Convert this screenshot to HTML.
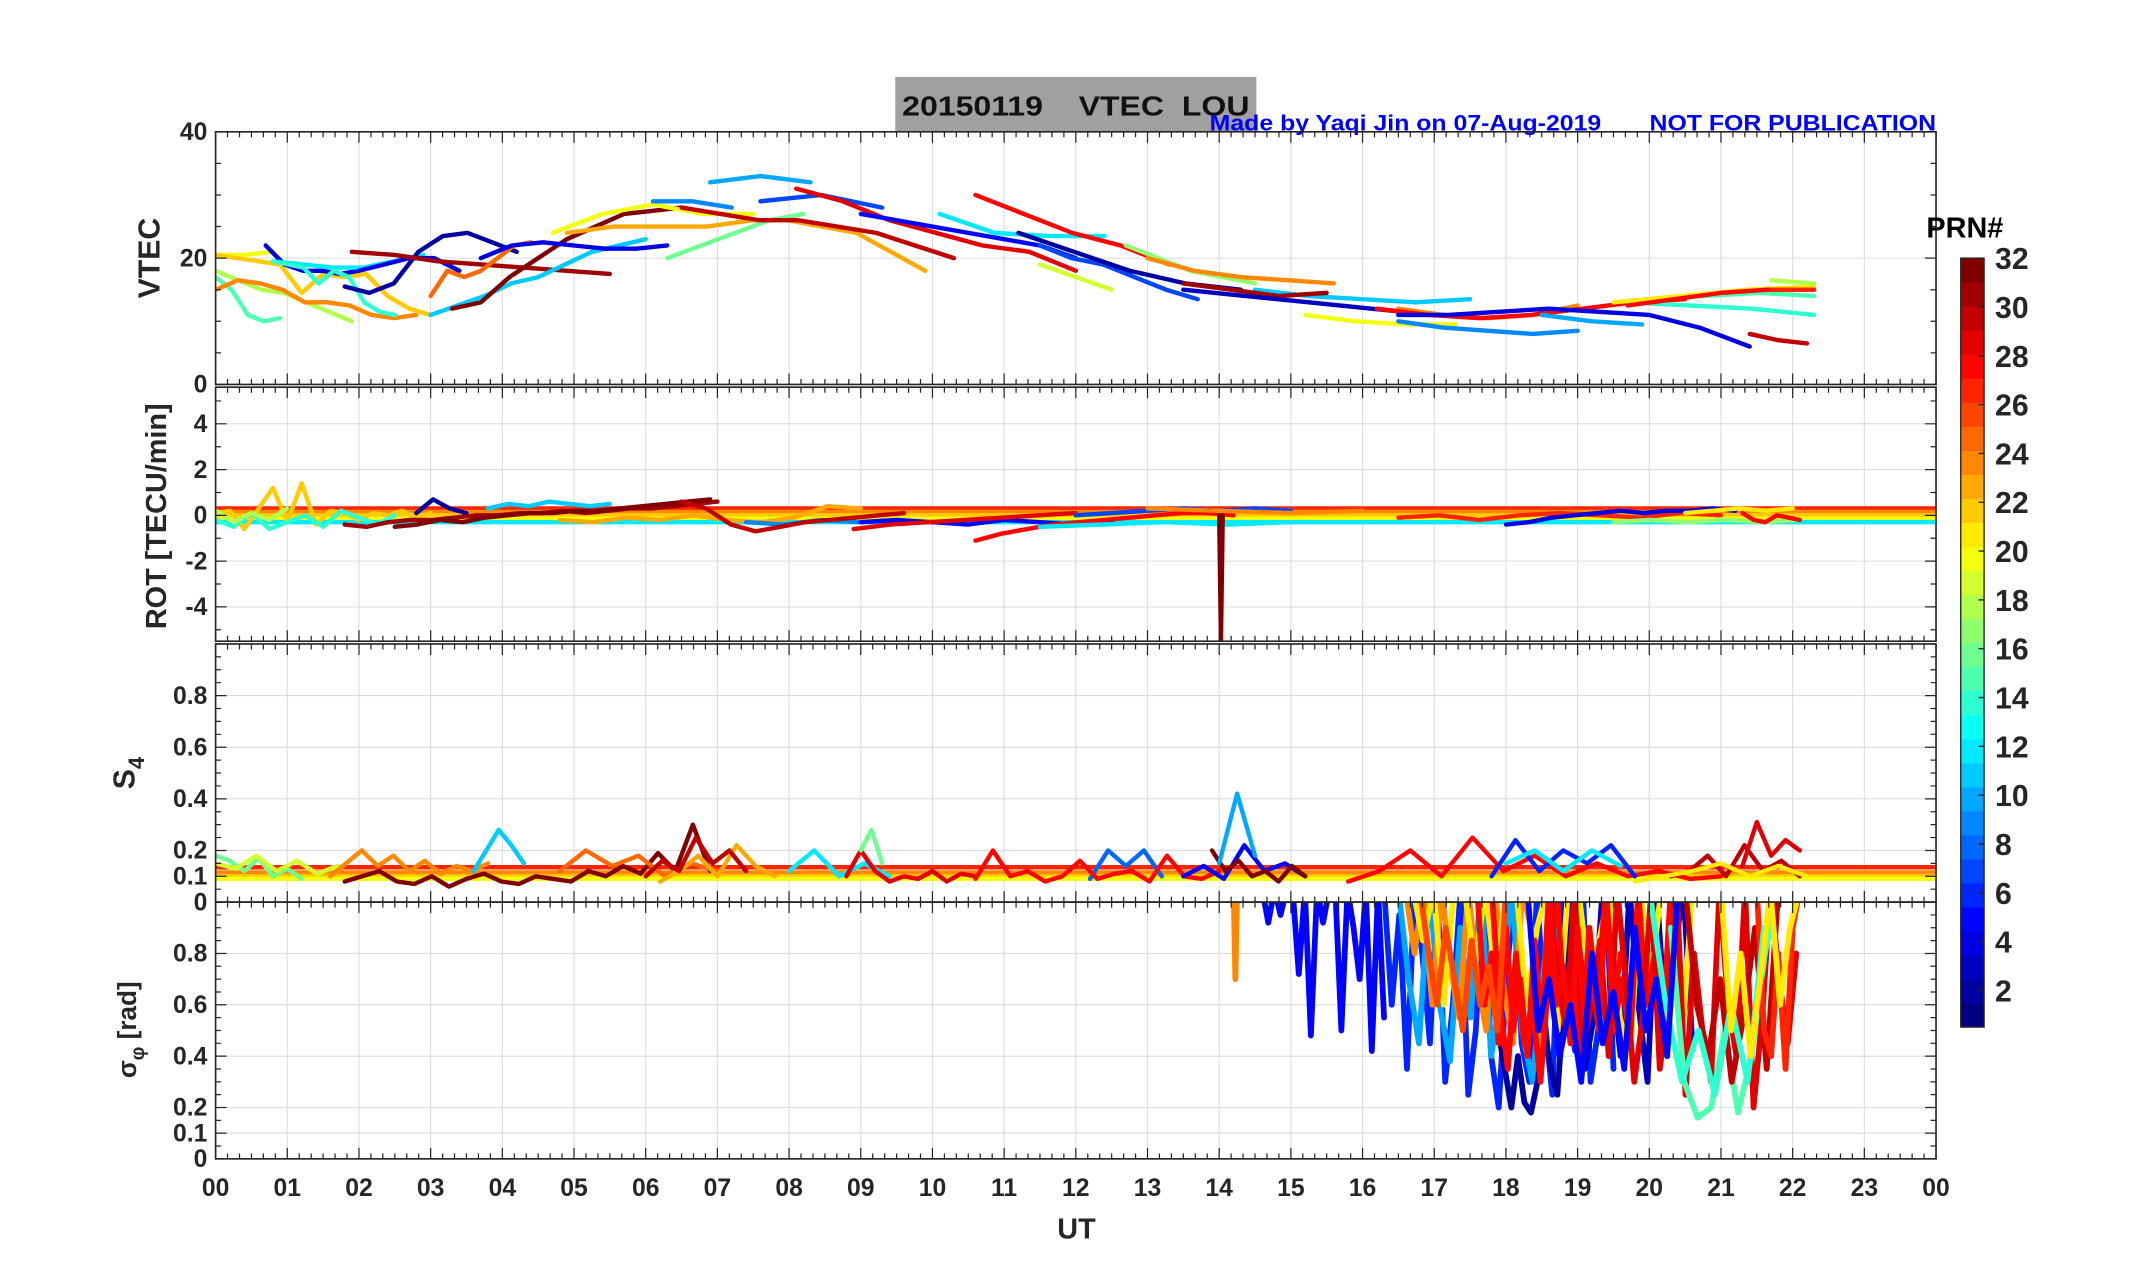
<!DOCTYPE html>
<html><head><meta charset="utf-8"><style>
html,body{margin:0;padding:0;background:#fff;width:2153px;height:1286px;overflow:hidden}
svg{display:block}
text{font-family:"Liberation Sans",sans-serif;font-weight:bold}
</style></head><body>
<svg id="fig" xmlns="http://www.w3.org/2000/svg" width="2153" height="1286" viewBox="0 0 1568 936.6">
<rect x="0" y="0" width="1568" height="937" fill="#fff"/>
<rect x="652" y="56" width="263" height="40" fill="#a0a0a0"/>
<text x="657" y="84" font-size="20" fill="#111" textLength="253" lengthAdjust="spacingAndGlyphs" xml:space="preserve">20150119    VTEC  LOU</text>
<text x="881" y="95" font-size="16" fill="#0000ff" textLength="529" lengthAdjust="spacingAndGlyphs" xml:space="preserve">Made by Yaqi Jin on 07-Aug-2019       NOT FOR PUBLICATION</text>
<g id="plots"></g>
<text x="784" y="902" font-size="21" text-anchor="middle" fill="#262626">UT</text>
<text transform="translate(116,188) rotate(-90)" font-size="22" text-anchor="middle" fill="#262626">VTEC</text>
<text transform="translate(121,376) rotate(-90)" font-size="21" text-anchor="middle" fill="#262626">ROT [TECU/min]</text>
<text transform="translate(98,563) rotate(-90)" font-size="22" text-anchor="middle" fill="#262626">S<tspan font-size="16" dy="7">4</tspan></text>
<text transform="translate(99,750) rotate(-90)" font-size="19" text-anchor="middle" fill="#262626">σ<tspan font-size="14" dy="6">φ</tspan><tspan dy="-6"> [rad]</tspan></text>
<text x="1403" y="173" font-size="21" fill="#000">PRN#</text>
<g id="cbar"></g>
</svg>
<script>
// ---------- data ----------
const xTickLabels = ["00","01","02","03","04","05","06","07","08","09","10","11","12","13","14","15","16","17","18","19","20","21","22","23","00"];
const vtecTicks = [0,20,40];
const rotTicks = [-4,-2,0,2,4];
const s4Ticks = [0,0.1,0.2,0.4,0.6,0.8];
const sigTicks = [0,0.1,0.2,0.4,0.6,0.8];
const cbarLabels = [2,4,6,8,10,12,14,16,18,20,22,24,26,28,30,32];

// VTEC arcs: prn, start hour, end hour, values
const vtecPrn   = [15,18,24,20,22,4,12,14,2,4,31,11,32,25,4,20,23,16,9,10,7,23,30,29,5,12,28,7,2,19,17,24,11,31,3,20,9,24,28,4,10,14,15,21,28,30,18,27];
const vtecStart = [0,0,0,0,0,0.7,0.8,0.8,1.8,2.0,1.9,3.0,3.3,3.0,3.7,4.7,4.9,6.3,6.1,6.9,7.6,7.5,6.5,8.1,9.0,10.1,10.6,11.5,11.2,11.5,12.7,13.0,14.5,13.5,13.5,15.2,16.5,16.5,16.2,16.5,18.5,19.7,20.0,19.5,19.7,21.4,21.7,21.7];
const vtecEnd   = [0.9,1.9,2.8,0.8,3.0,2.0,2.9,2.5,4.2,3.4,5.5,6.0,6.5,4.4,6.3,7.5,7.5,8.2,7.2,8.3,9.3,9.9,10.3,12.0,12.0,12.4,13.3,13.7,14.3,12.5,14.5,15.6,17.5,15.5,17.0,17.3,19.0,19.0,20.5,21.4,19.9,22.3,22.3,22.3,22.3,22.2,22.3,22.3];
const vtecVals = [
 [17,15,11,10,10.5],
 [18,16.5,15,14.5,13,11.5,10],
 [15,16.5,16,15,13,13,12.5,11,10.5,11],
 [20.5,20.5,21],
 [20.5,20,19.5,19,14.5,17.5,17,17.5,14,12,11],
 [22,19,18,18,17.5,18],
 [19.5,19,18.5,18.5,19.5,20.5],
 [19.5,19,18.5,16,18,17,13,11.5,11],
 [15.5,14.5,16,21,23.5,24,22.5,21],
 [18,19,20,20,18],
 [21,20.5,19.5,19,18.5,18,17.5],
 [11,12.5,14,16,17,19,21,22,23],
 [12,13,17,20,23,25,27,27.5,28],
 [14,18,17,18,20,22,22.5],
 [20,22,22.5,22,21.5,21.5,22],
 [24,27,28.5,27,27],
 [24,25,25,25,26],
 [20,22,24,26,27],
 [29,29,28],
 [32,33,32],
 [29,30,28],
 [26,26,25,24,21,18],
 [28,27,26,26,25,24,22,20],
 [31,29,26,24,22,21,18],
 [27,26,25,24,23,22,20],
 [27,24,23.5,23.5],
 [30,27,24,22,19],
 [22,20,19,17,15,13.5],
 [24,21,18,16,15],
 [19,17,15],
 [22,20,18,17,16],
 [20,18,17,16.5,16],
 [15,14,13.5,13,13.5],
 [16,15,14,14.5],
 [15,14,13,12,11],
 [11,10,9.5,9.5],
 [10,9,8.5,8,8.5],
 [12,11,10.5,11,12.5],
 [12,11,10.5,11,12,13,13.5],
 [11,11,11.5,12,11.5,11,9,6],
 [11,10,9.5],
 [13,12.5,12,11],
 [13.5,14,14.5,14],
 [13,14,15,15.5],
 [12.5,13.5,14.5,15,15],
 [8,7,6.5],
 [16.5,16],
 [15,15]
];

// ROT arcs
const rotPrn   = [22,14,18,2,31,32,11,23,9,30,5,29,28,7,12,24,27,4,17,21,32,28];
const rotStart = [0,0,0,2.8,1.8,2.5,3.8,4.8,7.4,6.5,9.0,8.9,10.6,12.0,11.5,13.0,16.5,18.0,19.5,20.5,14.0,21.3];
const rotEnd   = [3.0,2.5,1.0,3.5,7.0,6.9,5.5,9.0,9.5,9.6,12.5,12.0,14.2,15.0,15.0,16.0,21.0,21.2,22.1,22.0,14.05,22.1];
const rotVals = [
 [0.1,0.2,-0.6,0.3,1.2,-0.3,1.4,-0.4,0.2,0.1,-0.2,0.1,0,0.2,-0.1,0.1],
 [-0.2,-0.5,0.1,-0.6,-0.3,0,-0.5,0.2,-0.1,-0.4,0],
 [0.2,-0.3,0.1,-0.2,0.3],
 [0.1,0.7,0.3,0.1],
 [-0.4,-0.5,-0.3,-0.2,-0.2,-0.1,0,0,0.1,0.1,0.2,0.1,0.2,0.3,0.3,0.4,0.5,0.6],
 [-0.5,-0.4,-0.2,-0.3,-0.1,0,0.1,0.1,0.2,0.2,0.3,0.4,0.5,0.6,0.7],
 [0.3,0.5,0.4,0.6,0.5,0.4,0.5],
 [-0.2,-0.3,-0.1,-0.2,0,-0.2,-0.3,-0.1,0.4,0.3],
 [-0.3,-0.4,-0.2,-0.3,-0.2],
 [0.6,0.3,-0.4,-0.7,-0.5,-0.3,-0.2,-0.1,0,0.1],
 [-0.3,-0.2,-0.3,-0.4,-0.2,-0.3,-0.4,-0.3],
 [-0.6,-0.4,-0.3,-0.2,-0.1,0,0.1],
 [-1.1,-0.8,-0.6,-0.4,-0.3,-0.2,-0.1,0,0.1,0.1,0],
 [0,0.1,0.2,0.3,0.2,0.3,0.2],
 [-0.5,-0.4,-0.3,-0.4,-0.3],
 [0.3,0.2,0.1,0.2],
 [-0.1,0,-0.2,0,0.1,0,-0.1,0.1,0],
 [-0.4,-0.3,-0.1,0,0.1,0.2,0.1,0.2,0.2,0.3,0.2],
 [-0.3,-0.2,-0.3,-0.2,-0.3,-0.2],
 [0.1,0.2,0.3,0.2,0.3],
 [0,-5.5,0],
 [0.1,-0.2,-0.3,0,-0.1,-0.2]
];
const rotFlatPrn = [27,24,22,20,12];
const rotFlatVal = [0.3,0.15,0.0,-0.15,-0.3];

// S4 arcs
const s4Prn   = [16,19,24,11,32,25,23,30,12,29,8,28,5,16,32,10,28,6,12,30,21,29];
const s4Start = [0,0,1.6,3.6,1.8,4.8,6.2,6.0,8.0,8.8,12.2,10.6,13.5,9.0,13.9,14.0,15.8,17.8,18.0,20.3,19.8,21.3];
const s4End   = [1.2,1.7,3.8,4.3,6.9,7.0,7.8,7.4,9.4,10.6,13.2,14.0,15.2,9.3,15.2,14.5,21.0,19.8,19.6,22.1,22.2,22.1];
const s4Vals = [
 [0.18,0.16,0.12,0.17,0.1,0.13,0.09],
 [0.15,0.13,0.18,0.12,0.16,0.11,0.14],
 [0.1,0.15,0.2,0.14,0.18,0.12,0.16,0.11,0.14,0.12,0.15],
 [0.12,0.2,0.28,0.22,0.15],
 [0.08,0.1,0.12,0.08,0.07,0.1,0.06,0.09,0.11,0.08,0.07,0.1,0.09,0.08,0.12,0.1,0.14,0.11,0.19,0.12,0.3,0.12],
 [0.12,0.2,0.14,0.18,0.1,0.15,0.12],
 [0.08,0.12,0.18,0.1,0.22,0.14,0.1],
 [0.1,0.16,0.12,0.25,0.15,0.2,0.12],
 [0.12,0.2,0.1,0.15,0.1],
 [0.1,0.2,0.12,0.08,0.1,0.09,0.12,0.08,0.11,0.1],
 [0.09,0.2,0.14,0.2,0.1],
 [0.09,0.2,0.1,0.12,0.08,0.1,0.16,0.09,0.11,0.12,0.08,0.18,0.1,0.09,0.12],
 [0.1,0.14,0.09,0.22,0.12,0.15,0.1],
 [0.2,0.28,0.15],
 [0.2,0.12,0.16,0.1,0.12,0.08,0.14,0.1],
 [0.15,0.42,0.18],
 [0.08,0.12,0.2,0.1,0.25,0.12,0.18,0.1,0.15,0.1,0.12,0.09,0.1],
 [0.1,0.24,0.12,0.2,0.15,0.22,0.1],
 [0.15,0.2,0.12,0.2,0.14],
 [0.1,0.12,0.18,0.1,0.22,0.12,0.16,0.1],
 [0.08,0.1,0.12,0.15,0.1,0.14,0.1],
 [0.14,0.31,0.18,0.24,0.2]
];
const s4FlatPrn = [27,24,22,20];
const s4FlatVal = [0.135,0.115,0.1,0.09];

// sigma-phi arcs (values above 1 are off-scale)
const sigPrn   = [24,5,6,10,2,3,24,21,28,29,15,30,27,14,21,28,26,5];
const sigStart = [14.2,14.6,16.3,16.5,17.8,18.6,16.6,16.7,17.8,18.6,20.3,20.5,21.5,20.0,21.0,17.6,16.8,18.3];
const sigEnd   = [14.25,16.3,19.5,18.8,18.9,20.6,18.6,20.6,20.3,22.05,21.8,21.8,22.1,21.6,22.1,19.6,18.0,20.4];
const sigVals = [
 [1.1,0.7,1.1],
 [1.1,0.92,1.1,0.95,1.1,1.1,0.72,1.1,0.48,1.1,0.92,1.1,1.1,0.5,1.1,0.9,0.7,1.1,0.42,1.1,0.55],
 [1.1,0.6,0.95,0.35,1.1,0.8,0.45,1.1,0.3,0.6,1.1,0.25,0.5,1.1,0.4,0.2,0.7,1.1,0.45,0.3,1.1,0.55,0.25,1.1,0.6,0.42,1.1,0.3,0.5,1.1,0.35],
 [1.1,0.7,0.45,1.1,0.6,0.38,0.9,0.55,1.1,0.4,0.65,1.1,0.5,0.3,0.7,1.1,0.5],
 [1.1,0.5,0.35,0.2,0.4,0.22,0.18,0.3,0.5,0.35,0.25,0.6,1.1],
 [1.1,0.5,1.1,0.8,0.35,0.55,1.1,0.7,0.4,1.1,0.6,0.3,1.1,0.55,0.8,1.1,0.45],
 [1.1,0.8,1.1,0.6,1.1,0.75,0.55,1.1,0.7,0.5,1.1,0.65,0.45,1.1,0.9,0.4,1.1],
 [1.1,0.85,1.1,0.6,1.1,1.1,0.75,1.1,0.7,1.1,1.1,0.6,0.9,1.1,0.5,1.1,1.1,0.7,0.85,1.1,0.55,0.4,1.1,0.7,1.1,1.1,0.45,1.1],
 [1.1,0.6,0.35,0.8,0.45,0.6,0.3,0.7,1.1,0.55,0.75,0.4,0.9,0.6,1.1,0.5,0.7,0.45,1.1,0.6,0.8,0.5,1.1],
 [1.1,0.7,0.5,1.1,0.45,0.6,0.85,0.4,1.1,0.7,0.3,0.55,1.1,0.35,0.6,1.1,0.25,0.8,0.5,0.3,1.1,0.6,0.4,1.1,0.2,0.55,1.1,0.7,0.45,0.8],
 [0.9,0.3,0.16,0.2,0.5,0.18,0.4,0.8,1.1],
 [1.1,0.6,0.4,0.7,0.3,0.55,0.9,0.35,1.1],
 [1.1,0.5,0.4,0.8,0.35,0.9,1.1],
 [1.1,0.6,0.3,0.5,0.25,0.6,0.3,0.9],
 [1.1,0.5,0.8,0.4,0.7,1.1,0.6,0.9,1.1],
 [1.1,0.6,0.8,0.45,0.9,0.5,0.7,0.4,0.85,0.5,1.1,0.6,0.75,0.45,0.9,0.55,0.7,0.5,1.1,0.6,0.8],
 [1.1,0.8,0.6,0.9,0.7,0.5,0.85,0.6,0.75,0.5,1.1],
 [1.1,0.5,0.7,0.4,0.6,0.3,0.8,0.45,0.65,0.35,0.9,0.5,0.7,0.4,1.1]
];

// ---------- geometry ----------
const X0 = 157, X1 = 1410;
function xs(t){ return X0 + t*(X1-X0)/24; }
const panels = [
 {name:"vtec", top:96, bot:280, min:0, max:40, ticks:vtecTicks, minor:5},
 {name:"rot", top:282, bot:467, min:-5.5, max:5.6, ticks:rotTicks, minor:1},
 {name:"s4", top:469, bot:657, min:0, max:1, ticks:s4Ticks, minor:0.05},
 {name:"sigma", top:657, bot:844, min:0, max:1, ticks:sigTicks, minor:0.05}
];
function ys(p,v){ return p.bot - (v-p.min)*(p.bot-p.top)/(p.max-p.min); }
function jet(prn){
  const v = (prn-1)/31;
  const c = x => Math.round(255*Math.max(0,Math.min(1,x)));
  return "rgb("+c(1.5-Math.abs(4*v-3))+","+c(1.5-Math.abs(4*v-2))+","+c(1.5-Math.abs(4*v-1))+")";
}
const NS = "http://www.w3.org/2000/svg";
function mk(tag, attrs, parent){
  const e = document.createElementNS(NS, tag);
  for (const k in attrs) e.setAttribute(k, attrs[k]);
  parent.appendChild(e); return e;
}
const plots = document.getElementById("plots");
const defs = mk("defs", {}, plots);

panels.forEach((p, pi) => {
  const g = mk("g", {}, plots);
  
  
  const cp = mk("clipPath", {id:"clip"+pi}, defs);
  mk("rect", {x:X0, y:p.top, width:X1-X0, height:p.bot-p.top}, cp);
  for (let h=1; h<24; h++){
    const gl = mk("line", {x1:xs(h), x2:xs(h), y1:p.top, y2:p.bot, stroke:"#dcdcdc", "stroke-width":0.8}, g);
    
    
  }
  p.ticks.forEach(v => {
    const gl = mk("line", {x1:X0, x2:X1, y1:ys(p,v), y2:ys(p,v), stroke:"#dcdcdc", "stroke-width":0.8}, g);
    
    
  });
  const series = mk("g", {"clip-path":"url(#clip"+pi+")"}, g);
  
  
  p.series = series;
  const box = mk("rect", {x:X0, y:p.top, width:X1-X0, height:p.bot-p.top, fill:"none", stroke:"#262626", "stroke-width":1.2}, g);
  
  
  let d = "";
  for (let i=0; i<=144; i++){
    const x = xs(i/6); const L = (i%6===0) ? 8 : 4;
    d += "M"+x+" "+p.top+"v"+L+"M"+x+" "+p.bot+"v-"+L;
  }
  for (let v=Math.ceil(p.min/p.minor)*p.minor; v<=p.max+1e-9; v+=p.minor){
    const y = ys(p,v); const major = p.ticks.some(t=>Math.abs(t-v)<1e-6); const L = major?8:4;
    d += "M"+X0+" "+y+"h"+L+"M"+X1+" "+y+"h-"+L;
  }
  const tk = mk("path", {d:d, stroke:"#262626", "stroke-width":0.9, fill:"none"}, g);
  
  
  p.ticks.forEach(v => {
    const t = mk("text", {x:X0-6, y:ys(p,v)+6, "font-size":18, "text-anchor":"end", fill:"#262626"}, g);
    t.textContent = String(v);
    
    
  });
});

xTickLabels.forEach((lab, i) => {
  const t = mk("text", {x:xs(i), y:871, "font-size":18, "text-anchor":"middle", fill:"#262626"}, plots);
  t.textContent = lab;
  
  
});

function drawArcs(p, prns, starts, ends, vals, width, nm){
  prns.forEach((prn, i) => {
    const v = vals[i], n = v.length;
    const pts = v.map((val,k) => {
      const t = n>1 ? starts[i] + (ends[i]-starts[i])*k/(n-1) : starts[i];
      const yv = Math.max(p.min-0.2*(p.max-p.min), Math.min(p.max+0.05*(p.max-p.min), val));
      return xs(t).toFixed(1)+","+ys(p,yv).toFixed(1);
    }).join(" ");
    const pl = mk("polyline", {points:pts, fill:"none", stroke:jet(prn), "stroke-width":width, "stroke-linejoin":"round", "stroke-linecap":"round"}, p.series);
    
    
  });
}
function drawFlat(p, prns, vals, nm){
  prns.forEach((prn,i) => {
    const ln = mk("line", {x1:X0, x2:X1, y1:ys(p,vals[i]), y2:ys(p,vals[i]), stroke:jet(prn), "stroke-width":3.2}, p.series);
    
    
  });
}
drawArcs(panels[0], vtecPrn, vtecStart, vtecEnd, vtecVals, 3.2, 'vtec-arc');
drawFlat(panels[1], rotFlatPrn, rotFlatVal, 'rot');
drawArcs(panels[1], rotPrn, rotStart, rotEnd, rotVals, 3.2, 'rot-arc');
drawFlat(panels[2], s4FlatPrn, s4FlatVal, 's4');
drawArcs(panels[2], s4Prn, s4Start, s4End, s4Vals, 3.2, 's4-arc');
drawArcs(panels[3], sigPrn, sigStart, sigEnd, sigVals, 4.2, 'sigma-arc');

// colorbar
const cb = document.getElementById("cbar");


const CB_TOP = 188, CB_BOT = 748, CBX = 1428, CBW = 17;
const step = (CB_BOT-CB_TOP)/32;
for (let k=1; k<=32; k++){
  const r = mk("rect", {x:CBX, y:CB_BOT-k*step, width:CBW, height:step+0.4, fill:jet(k)}, cb);
  
  
}
mk("rect", {x:CBX, y:CB_TOP, width:CBW, height:CB_BOT-CB_TOP, fill:"none", stroke:"#262626", "stroke-width":1}, cb);
cbarLabels.forEach(v => {
  const y = CB_BOT - (v-0.5)*(CB_BOT-CB_TOP)/31.5;
  mk("line", {x1:CBX+CBW-4, x2:CBX+CBW, y1:y, y2:y, stroke:"#262626", "stroke-width":1}, cb);
  const t = mk("text", {x:CBX+CBW+8, y:y+8, "font-size":22, fill:"#262626"}, cb);
  t.textContent = String(v);
  
  
});
</script>
</body></html>
